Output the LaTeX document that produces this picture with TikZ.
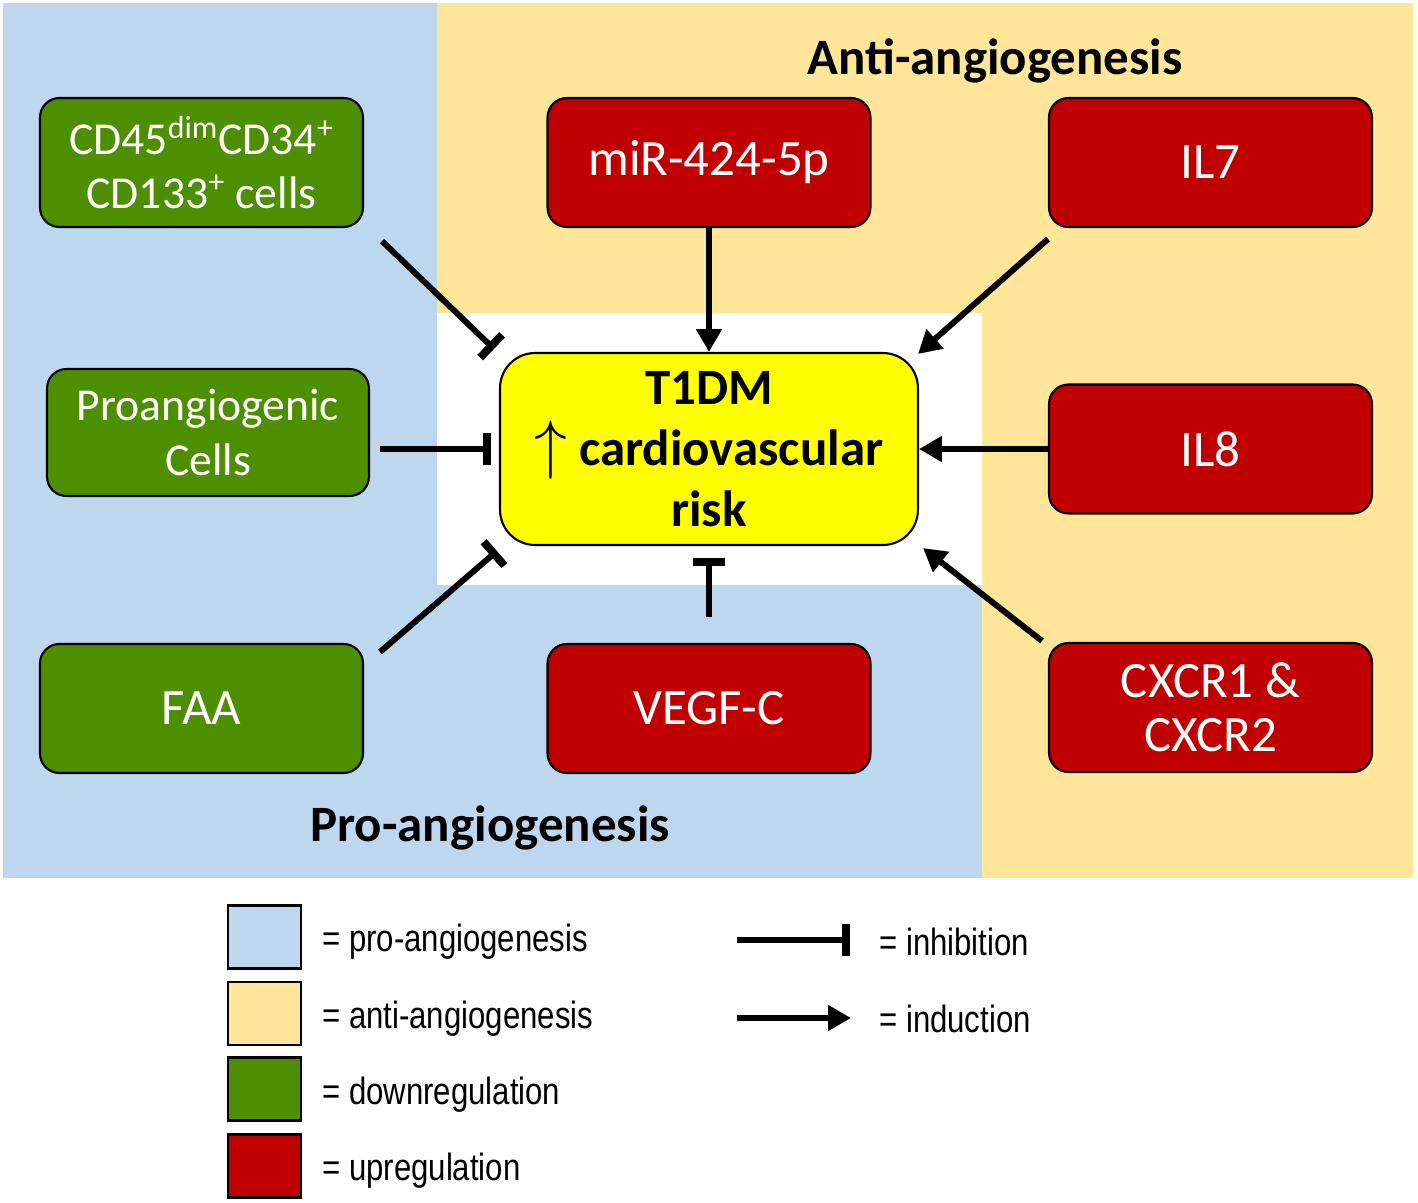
\documentclass[tikz,border=0pt]{standalone}
\usepackage{fontspec}
\setmainfont{Carlito}
\newfontfamily\legfont[FakeStretch=0.82]{Liberation Sans}
\usetikzlibrary{arrows.meta,calc}
\definecolor{probg}{HTML}{BDD7EE}
\definecolor{antibg}{HTML}{FFE699}
\definecolor{downc}{HTML}{4E8F00}
\definecolor{upc}{HTML}{C00000}
\definecolor{corec}{HTML}{FFFF00}
\begin{document}
\begin{tikzpicture}[x=0.02cm,y=-0.02cm,
  box/.style={draw=black, line width=1.2pt, rounded corners=11pt, minimum width=6.46cm, minimum height=2.58cm, text=white, align=center, font=\fontsize{29}{31}\selectfont, inner sep=0pt},
  smallbox/.style={font=\fontsize{26}{31}\selectfont},
  greenbox/.style={box, fill=downc},
  redbox/.style={box, fill=upc},
  corebox/.style={draw=black, line width=1.2pt, rounded corners=20pt, fill=corec, minimum width=8.36cm, minimum height=3.84cm, align=center, font=\fontsize{29}{34.6}\selectfont\bfseries, inner sep=0pt},
  ind/.style={line width=3.4pt, -{Triangle[length=13pt,width=14pt]}},
  inh/.style={line width=3.4pt, -{Bar[width=18pt,line width=4.5pt]}},
  heading/.style={font=\fontsize{29}{34}\selectfont\bfseries, inner sep=0pt},
  legsq/.style={draw=black, line width=1.3pt, minimum width=1.46cm, minimum height=1.26cm, inner sep=0pt},
  legtext/.style={anchor=west, inner sep=0pt, font=\legfont\fontsize{21.6}{24}\selectfont}
]
\useasboundingbox (0,0) rectangle (1418,1203);
% backgrounds
\fill[probg] (3,3) rectangle (982,878);
\fill[antibg] (437,3) rectangle (1413,313);
\fill[antibg] (982,3) rectangle (1413,878);
\fill[white] (437,313) rectangle (982,585);

% headings
\node[heading] (antih) at (995,61) {Anti-angiogenesis};
\node[heading] (proh) at (490,828) {Pro-angiogenesis};

% core
\node[corebox] (t1dm) at (709,449) {T1DM\\\raisebox{-0.5pt}{\scalebox{1.5}{$\uparrow$}} cardiovascular\\risk};

% boxes
\node[greenbox, smallbox] (cd45) at (201.5,162.5) {CD45\textsuperscript{dim}CD34\textsuperscript{+}\\CD133\textsuperscript{+} cells};
\node[redbox] (mir) at (709,162.5) {miR-424-5p};
\node[redbox] (il7) at (1210.5,162.5) {IL7};
\node[greenbox, smallbox, minimum width=6.44cm, minimum height=2.54cm] (proang) at (208,432.5) {Proangiogenic\\Cells};
\node[redbox] (il8) at (1210.5,449) {IL8};
\node[greenbox] (faa) at (201.5,708.5) {FAA};
\node[redbox] (vegf) at (709,708.5) {VEGF-C};
\node[redbox] (cxcr) at (1210.5,707.5) {CXCR1 \&\\CXCR2};

% connectors
\draw[inh] ([shift={(18,13)}]cd45.south east) -- ([shift={(-5,-3)}]t1dm.north west);
\draw[ind] (mir.south) -- (t1dm.north);
\draw[ind] ([shift={(0,11)}]il7.south west) -- ([shift={(-1,2)}]t1dm.north east);
\draw[inh] ($(proang.east |- t1dm.west)+(10,0)$) -- ([xshift=-0.16cm]t1dm.west);
\draw[ind] (il8.west) -- (t1dm.east);
\draw[inh] ([shift={(16,9)}]faa.north east) -- ([shift={(-2,5)}]t1dm.south west);
\draw[inh] ([shift={(0,-26)}]vegf.north) -- ([shift={(0,12)}]t1dm.south);
\draw[ind] ([shift={(-6,-1)}]cxcr.north west) -- ([shift={(4,2)}]t1dm.south east);

% legend
\node[legsq, fill=probg] (lpro) at (264.5,937) {};
\node[legsq, fill=antibg] (lanti) at (264.5,1013.5) {};
\node[legsq, fill=downc] (ldown) at (264.5,1089) {};
\node[legsq, fill=upc] (lup) at (264.5,1166) {};
\node[legtext] (tpro) at (322,942) {= pro-angiogenesis};
\node[legtext] (tanti) at (322,1019) {= anti-angiogenesis};
\node[legtext] (tdown) at (322,1095) {= downregulation};
\node[legtext] (tup) at (322,1171) {= upregulation};
\coordinate (inhs) at (737,940);
\coordinate (inhe) at (850,940);
\coordinate (inds) at (737,1018);
\coordinate (inde) at (851,1018);
\draw[line width=3.4pt, -{Bar[width=18pt,line width=4.5pt]}] (inhs) -- (inhe);
\draw[ind] (inds) -- (inde);
\node[legtext] (tinh) at (879,942) {= inhibition};
\node[legtext] (tind) at (879,1019) {= induction};
\end{tikzpicture}
\end{document}
